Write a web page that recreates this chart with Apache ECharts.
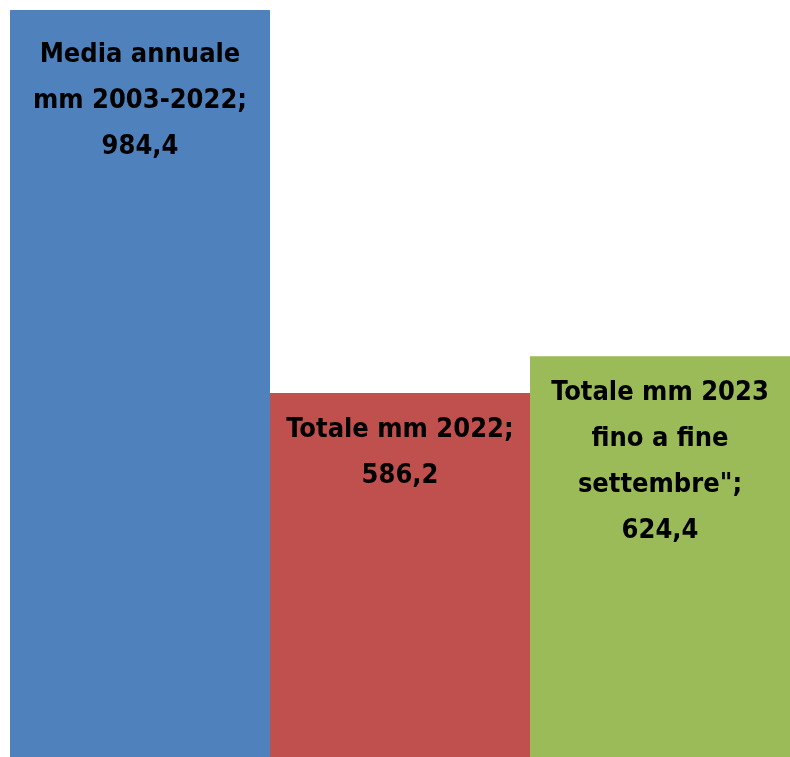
<!DOCTYPE html>
<html>
<head>
<meta charset="utf-8">
<script src="https://cdn.jsdelivr.net/npm/echarts@6/dist/echarts.min.js"></script>
<style>
  html, body { margin: 0; padding: 0; background: #fff; }
  #chart { width: 790px; height: 757px; }
</style>
</head>
<body>
<div id="chart"></div>
<script>
const categories = ['Media annuale\nmm 2003-2022', 'Totale mm 2022', 'Totale mm 2023\nfino a fine\nsettembre"']
const values = [984.4, 586.2, 624.4]
const colors = ['#4F81BD', '#C0504D', '#9BBB59']
const labelGap = [22, 14, 14]

const chart = echarts.init(document.getElementById('chart'))

const option = {
  animation: false,
  grid: {
    left: 10,
    right: 0,
    top: 10,
    bottom: 0
  },
  xAxis: {
    type: 'category',
    show: false,
    data: categories
  },
  yAxis: {
    type: 'value',
    show: false,
    // the picture is cropped: the bottom edge sits at about 208 mm
    min: 208,
    max: 984.4
  },
  series: [{
    type: 'bar',
    barCategoryGap: '0%',
    data: values.map((v, i) => ({
      value: v,
      itemStyle: { color: colors[i] },
      label: { distance: labelGap[i] }
    })),
    label: {
      show: true,
      position: 'insideTop',
      color: '#000',
      fontFamily: '"Liberation Sans Narrow", "DejaVu Sans Condensed", sans-serif',
      fontWeight: 'bold',
      fontSize: 27,
      lineHeight: 46,
      align: 'center',
      formatter: p => p.name + ';\n' + String(p.value).replace('.', ',')
    }
  }]
}

chart.setOption(option)
</script>
</body>
</html>
